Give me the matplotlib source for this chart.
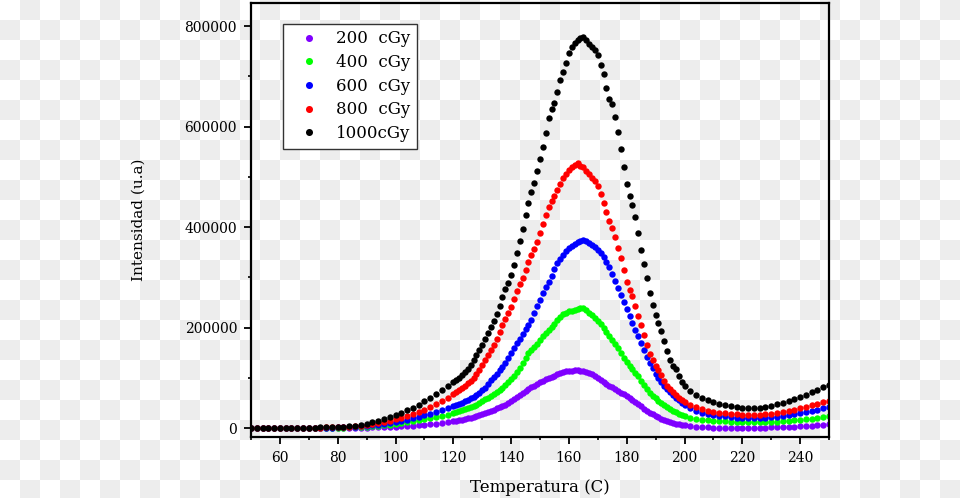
import numpy as np
import matplotlib
matplotlib.use('Agg')
import matplotlib.pyplot as plt
from matplotlib.ticker import MultipleLocator, FormatStrFormatter

# temperature grid (C): coarse on the flat parts, 1 degree through the peak
temps = list(range(50, 120, 2)) + list(range(120, 201)) + list(range(202, 251, 2))

# TL intensity, in thousands (u.a)
dose_200 = [
    0, 0, 0, 0, 0, 0, 0, 0.1, 0.1, 0.2, 0.2, 0.3, 0.3, 0.4, 0.5, 0.6, 0.7, 0.8,
    1, 1.2, 1.5, 1.8, 2.1, 2.5, 3, 3.5, 4, 4.5, 5.2, 6, 7, 8, 9, 11, 12.5,
    14, 15, 16, 17, 19, 20, 21, 23, 25, 26,
    28, 30, 32, 34, 37, 40, 43, 45, 47, 51,
    55, 58, 62, 67, 71, 75, 78, 82, 85, 88,
    92, 95, 98, 101, 103, 105, 108, 110, 112, 113,
    114, 114, 115, 115, 114, 113, 112, 110, 108, 104,
    101, 97, 93, 89, 85, 82, 78, 74, 71, 68,
    65, 61, 57, 53, 48, 44, 39, 35, 31, 28,
    25, 22, 19, 17, 15, 13, 11, 9.5, 8, 7, 6,
    4.5, 3.5, 2.5, 2, 1.5, 1.2, 1, 1, 1, 1, 1, 1, 1.2,
    1.4, 1.6, 2, 2.4, 2.8, 3.3, 3.8, 4.5, 5.2, 6, 7, 8,
]
dose_400 = [
    0, 0, 0, 0, 0, 0.2, 0.2, 0.3, 0.4, 0.4, 0.5, 0.6, 0.7, 0.8, 1, 1.2, 1.5, 2,
    2.5, 3, 3.5, 4.5, 5.5, 6.5, 7.5, 9, 10, 12, 14, 16, 18, 20, 23, 25, 27,
    30, 32, 34, 36, 38, 40, 42, 45, 47, 50,
    54, 58, 61, 65, 69, 73, 77, 81, 87, 93,
    99, 105, 112, 120, 130, 140, 149, 156, 161, 168,
    175, 184, 190, 196, 201, 207, 215, 222, 227, 230,
    233, 234, 235, 237, 239, 240, 236, 230, 225, 220,
    214, 207, 199, 191, 183, 176, 167, 159, 150, 140,
    131, 124, 117, 111, 104, 95, 86, 78, 71, 65,
    60, 55, 50, 46, 42, 38, 35, 32, 29, 27, 25,
    21, 19, 17, 16, 15, 14, 14, 13, 13, 12, 12, 12, 12,
    12, 13, 13, 14, 15, 16, 17, 18, 19, 21, 22, 24,
]
dose_600 = [
    0, 0, 0, 0, 0, 0.2, 0.3, 0.4, 0.5, 0.6, 0.7, 0.8, 1, 1.2, 1.4, 1.7, 2, 2.5,
    3, 3.8, 4.6, 5.6, 7, 8.5, 10, 12, 14, 17, 20, 23, 26, 29, 33, 37, 41,
    45, 47, 49, 51, 54, 57, 60, 63, 67, 71,
    76, 81, 88, 96, 103, 109, 115, 122, 130, 139,
    149, 159, 169, 177, 187, 198, 206, 216, 229, 243,
    256, 270, 281, 291, 302, 316, 328, 336, 344, 352,
    358, 362, 367, 371, 373, 374, 372, 369, 365, 360,
    355, 349, 340, 331, 320, 307, 294, 279, 265, 252,
    238, 224, 210, 196, 183, 170, 155, 142, 130, 119,
    109, 100, 92, 85, 78, 72, 66, 61, 56, 51, 47,
    40, 35, 31, 28, 26, 25, 24, 22, 21, 20, 20, 20, 20,
    21, 22, 23, 24, 26, 28, 30, 32, 35, 37, 40, 42,
]
dose_800 = [
    0, 0, 0, 0, 0, 0.3, 0.4, 0.5, 0.7, 0.8, 1, 1.2, 1.4, 1.6, 2, 2.4, 3, 3.5,
    4.2, 5, 6.5, 8, 10, 12.5, 15, 18, 21, 24, 28, 32, 36, 42, 48, 54, 61,
    68, 72, 76, 80, 85, 90, 95, 101, 108, 116,
    125, 135, 145, 156, 166, 178, 192, 206, 218, 229,
    242, 258, 274, 288, 299, 314, 331, 345, 356, 370,
    388, 406, 425, 441, 452, 463, 474, 485, 497, 506,
    514, 520, 524, 527, 522, 519, 512, 505, 497, 492,
    481, 466, 448, 430, 412, 398, 381, 358, 338, 314,
    292, 276, 264, 244, 224, 205, 186, 166, 148, 135,
    124, 115, 106, 95, 85, 78, 72, 66, 61, 56, 52,
    47, 42, 38, 35, 33, 31, 30, 29, 28, 27, 27, 27, 27,
    28, 29, 30, 32, 34, 37, 40, 43, 46, 49, 52, 55,
]
dose_1000 = [
    0, 0, 0, 0, 0, 0.5, 0.5, 0.8, 1, 1, 1.2, 1.5, 1.8, 2, 2.5, 3, 3.5, 4.5,
    5.5, 7, 9.5, 12, 15, 18, 22, 26, 31, 36, 41, 47, 54, 60, 68, 76, 85,
    92, 96, 101, 106, 112, 118, 126, 135, 145, 155,
    166, 178, 190, 202, 214, 228, 244, 261, 277, 290,
    305, 324, 348, 372, 397, 425, 449, 470, 488, 511,
    535, 560, 588, 617, 635, 648, 668, 692, 708, 727,
    746, 758, 767, 772, 776, 778, 772, 765, 758, 752,
    742, 722, 704, 676, 656, 645, 620, 590, 555, 520,
    485, 462, 445, 420, 388, 354, 326, 298, 270, 246,
    226, 210, 194, 174, 154, 135, 124, 117, 105, 93, 85,
    75, 67, 61, 56, 52, 49, 46, 44, 42, 41, 40, 40, 41,
    43, 45, 48, 51, 54, 58, 62, 67, 72, 77, 82, 87,
]

series = [dose_200, dose_400, dose_600, dose_800, dose_1000]
labels = ['200  cGy', '400  cGy', '600  cGy', '800  cGy', '1000cGy']
colors = ['#8000ff', '#00ff00', '#0000ff', '#ff0000', '#000000']


def main():
    plt.rcParams['font.family'] = ['DejaVu Serif']

    W, H, dpi = 960, 498, 100
    fig = plt.figure(figsize=(W / dpi, H / dpi), dpi=dpi)

    # transparent-background checkerboard behind everything
    yy, xx = np.mgrid[0:H, 0:W]
    checker = np.where(((xx // 20 + yy // 20) % 2) == 1, 0.93, 1.0)
    fig.figimage(np.dstack([checker] * 3), xo=0, yo=0, origin='upper',
                 zorder=-10)

    ax = fig.add_axes([251 / W, 61 / H, 578 / W, 434 / H])
    ax.set_zorder(1)
    ax.set_facecolor('none')

    for vals, lab, col in zip(series, labels, colors):
        assert len(vals) == len(temps), lab
        ax.plot(temps, np.array(vals) * 1000, 'o', color=col, ms=4.6, mew=0,
                label=lab)

    ax.set_xlim(50, 250)
    ax.set_ylim(-17300, 846000)
    ax.xaxis.set_major_locator(MultipleLocator(20))
    ax.xaxis.set_minor_locator(MultipleLocator(10))
    ax.yaxis.set_major_locator(MultipleLocator(200000))
    ax.yaxis.set_minor_locator(MultipleLocator(100000))
    ax.yaxis.set_major_formatter(FormatStrFormatter('%d'))

    for sp in ax.spines.values():
        sp.set_linewidth(1.6)
    ax.tick_params(which='major', direction='out', length=5, width=1.3,
                   labelsize=10, pad=5)
    ax.tick_params(which='minor', direction='out', length=2.5, width=1.2)

    ax.set_xlabel('Temperatura (C)', fontsize=12, labelpad=10)
    ax.set_ylabel('Intensidad (u.a)', fontsize=11, labelpad=28)

    leg = ax.legend(loc='upper left', bbox_to_anchor=(0.055, 0.952),
                    borderaxespad=0, fancybox=False, framealpha=1,
                    edgecolor='#333333', fontsize=12, numpoints=1,
                    handlelength=2.4, handletextpad=0.4, labelspacing=0.4,
                    borderpad=0.4, markerscale=1.1)
    leg.get_frame().set_linewidth(1.0)

    fig.savefig('out.png', dpi=dpi)
    plt.close(fig)


if __name__ == '__main__':
    main()
